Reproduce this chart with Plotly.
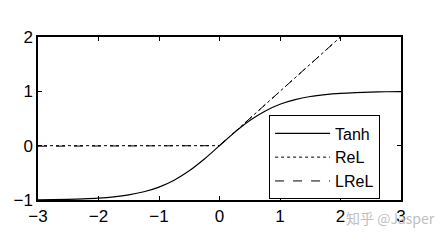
import plotly.graph_objects as go

x_tanh = [-3, -2.75, -2.5, -2.25, -2, -1.75, -1.5, -1.25, -1, -0.75, -0.5, -0.25, 0,
          0.25, 0.5, 0.75, 1, 1.25, 1.5, 1.75, 2, 2.25, 2.5, 2.75, 3]
y_tanh = [-0.995, -0.992, -0.987, -0.978, -0.964, -0.941, -0.905, -0.848, -0.762, -0.635, -0.462, -0.245, 0,
          0.245, 0.462, 0.635, 0.762, 0.848, 0.905, 0.941, 0.964, 0.978, 0.987, 0.992, 0.995]
x_relu = [-3, 0, 2]
y_relu = [0, 0, 2]
x_lrelu = [-3, 0, 2]
y_lrelu = [-0.01, 0, 2]
x_ticks = [-3, -2, -1, 0, 1, 2, 3]
y_ticks = [-1, 0, 1, 2]

font = "Liberation Sans, Arial, sans-serif"
fig = go.Figure()
fig.add_trace(go.Scatter(x=x_tanh, y=y_tanh, mode="lines", name="Tanh",
                         line=dict(color="black", width=1.2, shape="spline")))
fig.add_trace(go.Scatter(x=x_relu, y=y_relu, mode="lines", name="ReL",
                         line=dict(color="black", width=1, dash="dot")))
fig.add_trace(go.Scatter(x=x_lrelu, y=y_lrelu, mode="lines", name="LReL",
                         line=dict(color="black", width=1, dash="dash")))

axis_common = dict(showgrid=False, zeroline=False, showline=True, linecolor="black",
                   linewidth=1.5, mirror="ticks", ticks="inside", ticklen=4,
                   tickcolor="black", tickfont=dict(family=font, size=17, color="black"))
fig.update_xaxes(range=[-3, 3], tickvals=x_ticks, **axis_common)
fig.update_yaxes(range=[-1, 2], tickvals=y_ticks, **axis_common)

fig.update_layout(
    width=447, height=243,
    margin=dict(l=38, r=46, t=37, b=43),
    plot_bgcolor="white", paper_bgcolor="white",
    showlegend=True,
    legend=dict(x=0.636, y=0.52, xanchor="left", yanchor="top",
                bordercolor="black", borderwidth=1.2, bgcolor="white",
                font=dict(family=font, size=16, color="black"),
                itemwidth=55, tracegroupgap=0),
    annotations=[dict(text="知乎 @Jasper", xref="paper", yref="paper",
                      x=1.098, y=-0.11, xanchor="right", yanchor="middle",
                      showarrow=False,
                      font=dict(family="Noto Sans CJK SC, sans-serif", size=14, color="#c0c0c0"))],
)
fig.write_html("out.html")
